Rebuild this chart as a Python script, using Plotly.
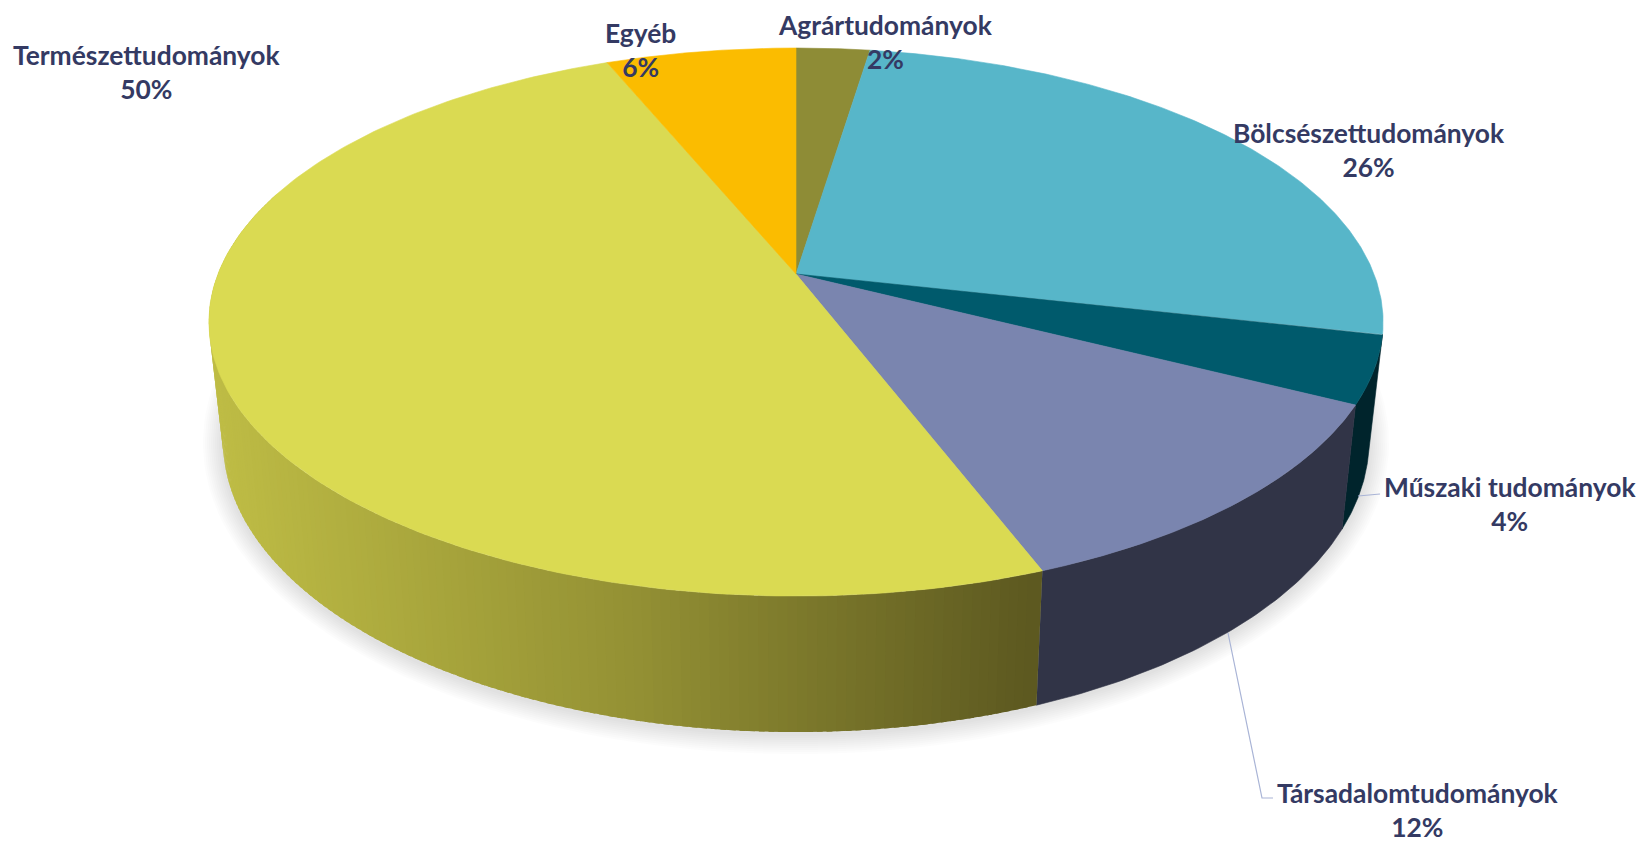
import numpy as np
import plotly.graph_objects as go

# --- data (clockwise from 12 o'clock) ---
categories = ["Agrártudományok", "Bölcsészettudományok", "Műszaki tudományok",
              "Társadalomtudományok", "Természettudományok", "Egyéb"]
values = [2.4, 26.1, 4.0, 11.7, 49.6, 6.2]
percent_labels = ["2%", "26%", "4%", "12%", "50%", "6%"]

# --- styles ---
top_colors = ["#8E8C36", "#57B6C9", "#005A6C", "#7A85AF", "#DADA52", "#FBBC00"]
wall_colors = [None, None, "#00242C", "#313447", None, None]
wall_stops_x = [215, 650, 1040]
wall_stops_rgb = [(192, 190, 70), (147, 144, 52), (92, 88, 32)]
text_color = "#343A63"
leader_color = "#A9B4D6"
label_x = [885, 1369, 1510, 1418, 146, 640]
label_y = [42, 150, 504, 810, 72, 50]

# --- projection of the disc ---
W, H = 1640, 845
CX, APEX_Y = 796, 274
A, B, K = 578.0, 265.6, 0.1753
LOW_S, LOW_A, LOW_B = 0.976, 98.75, 1.0625


def top_pt(t):
    t = np.asarray(t, dtype=float)
    u, v = np.sin(t), np.cos(t)
    d = 1 + K * v
    return CX + A * u / d, APEX_Y - B * v / d


def low_pt(t):
    x, y = top_pt(t)
    return CX + LOW_S * (x - CX), LOW_A + LOW_B * y


fig = go.Figure()


def poly(x, y, color, width=0.6):
    fig.add_trace(go.Scatter(x=x, y=y, mode="lines", fill="toself", fillcolor=color,
                             line=dict(color=color, width=width),
                             hoverinfo="skip", showlegend=False))


# soft shadow below the disc
tt = np.linspace(0, 2 * np.pi, 240)
lx, ly = low_pt(tt)
cxs = (lx.max() + lx.min()) / 2
cys = (ly.max() + ly.min()) / 2
for grow in range(20, 0, -2):
    sx = (lx.max() - lx.min() + 2 * grow) / (lx.max() - lx.min())
    sy = (ly.max() - ly.min() + 2 * grow) / (ly.max() - ly.min())
    fig.add_trace(go.Scatter(x=cxs + sx * (lx - cxs), y=cys + 2 + sy * (ly - cys),
                             mode="lines", fill="toself", fillcolor="rgba(110,110,110,0.022)",
                             line=dict(width=0), hoverinfo="skip", showlegend=False))

edges = 2 * np.pi * np.concatenate([[0], np.cumsum(values)]) / np.sum(values)


def wall(t0, t1, color, width=0.6):
    t = np.linspace(t0, t1, 60)
    xa, ya = top_pt(t)
    xb, yb = low_pt(t[::-1])
    poly(np.r_[xa, xb, xa[0]], np.r_[ya, yb, ya[0]], color, width)


# side walls
for i, c in enumerate(wall_colors):
    if c:
        wall(edges[i], edges[i + 1], c)

# gradient wall of the largest slice, in narrow overlapping strips, painted back to front
i_big = int(np.argmax(values))
strip_edges = np.linspace(edges[i_big], 1.6 * np.pi, 160)
step = strip_edges[1] - strip_edges[0]
for t0, t1 in list(zip(strip_edges[:-1], strip_edges[1:]))[::-1]:
    xm = float(low_pt((t0 + t1) / 2)[0])
    rgb = [np.interp(xm, wall_stops_x, [s[k] for s in wall_stops_rgb]) for k in range(3)]
    wall(t0, t1 + step * 0.6, "rgb(%d,%d,%d)" % tuple(rgb), 0)

# top faces
for i, c in enumerate(top_colors):
    t = np.linspace(edges[i], edges[i + 1], 200)
    x, y = top_pt(t)
    poly(np.r_[CX, x, CX], np.r_[APEX_Y, y, APEX_Y], c)

# leader lines
fig.add_trace(go.Scatter(x=[1358, 1380], y=[496, 494], mode="lines",
                         line=dict(color=leader_color, width=1.2),
                         hoverinfo="skip", showlegend=False))
fig.add_trace(go.Scatter(x=[1228, 1262, 1273], y=[633, 798, 798], mode="lines",
                         line=dict(color=leader_color, width=1.2),
                         hoverinfo="skip", showlegend=False))

# labels
for c, p, x, y in zip(categories, percent_labels, label_x, label_y):
    fig.add_annotation(x=x, y=y, text=f"<b>{c}</b><br><b>{p}</b>", showarrow=False,
                       xanchor="center", yanchor="middle", align="center",
                       font=dict(family="Lato, sans-serif", size=26.4, color=text_color))

fig.update_layout(width=W, height=H, margin=dict(l=0, r=0, t=0, b=0),
                  paper_bgcolor="white", plot_bgcolor="white", showlegend=False,
                  xaxis=dict(range=[0, W], visible=False, fixedrange=True),
                  yaxis=dict(range=[H, 0], visible=False, fixedrange=True))

fig.write_html("out.html", config={"displayModeBar": False},
               post_script="document.body.style.margin='0';document.body.style.overflow='hidden';")
